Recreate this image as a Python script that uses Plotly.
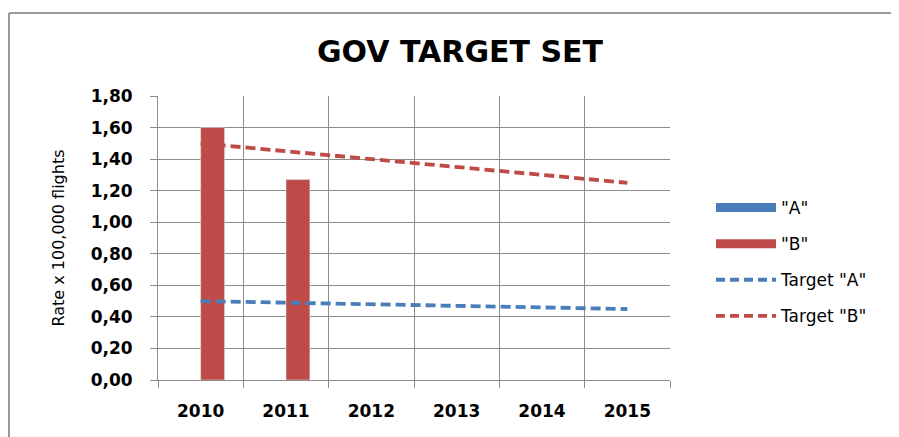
import plotly.graph_objects as go

years = [2010, 2011, 2012, 2013, 2014, 2015]
year_labels = ["2010", "2011", "2012", "2013", "2014", "2015"]
series_a = [None, None, None, None, None, None]
series_b = [1.60, 1.27, None, None, None, None]
target_a = [0.50, 0.49, 0.48, 0.47, 0.46, 0.45]
target_b = [1.50, 1.45, 1.40, 1.35, 1.30, 1.25]
y_ticks = [0.0, 0.2, 0.4, 0.6, 0.8, 1.0, 1.2, 1.4, 1.6, 1.8]
y_tick_labels = ["0,00", "0,20", "0,40", "0,60", "0,80", "1,00", "1,20", "1,40", "1,60", "1,80"]

BLUE = "#4A7EBB"
RED = "#BE4B48"
FONT = "DejaVu Sans"
GRID = "#8C8C8C"

# page is offset by the 8px body margin; figure coords = page coords - 8
L, R, T, B = 150, 662, 88, 372
W, H = 899, 437
PW, PH = R - L, B - T

fig = go.Figure()
fig.add_trace(go.Bar(x=years, y=series_a, width=0.28, offset=-0.28, marker_color=BLUE,
                     showlegend=False, name='"A"'))
fig.add_trace(go.Bar(x=years, y=series_b, width=0.28, offset=0.0, marker_color=RED,
                     showlegend=False, name='"B"'))
fig.add_trace(go.Scatter(x=years, y=target_a, mode="lines", showlegend=False,
                         line=dict(color=BLUE, width=3.8, dash="10px,5px")))
fig.add_trace(go.Scatter(x=years, y=target_b, mode="lines", showlegend=False,
                         line=dict(color=RED, width=3.8, dash="10px,5px")))

# legend entries
fig.add_trace(go.Scatter(x=[None], y=[None], mode="lines", name='"A"', legendgroup="a",
                         line=dict(color=BLUE, width=9)))
fig.add_trace(go.Scatter(x=[None], y=[None], mode="lines", name='"B"', legendgroup="b",
                         line=dict(color=RED, width=9)))
fig.add_trace(go.Scatter(x=[None], y=[None], mode="lines", name='Target "A"', legendgroup="c",
                         line=dict(color=BLUE, width=3.8, dash="9px,5px")))
fig.add_trace(go.Scatter(x=[None], y=[None], mode="lines", name='Target "B"', legendgroup="d",
                         line=dict(color=RED, width=3.8, dash="9px,5px")))

fig.update_layout(
    width=W, height=H,
    margin=dict(l=L, r=W - R, t=T, b=H - B),
    paper_bgcolor="white", plot_bgcolor="white",
    title=dict(text="<b>GOV TARGET SET</b>", x=452 / W, xanchor="center",
               y=1 - 43 / H, yanchor="middle",
               font=dict(family=FONT, size=30, color="black")),
    showlegend=True,
    legend=dict(x=(703 - L) / PW, y=1 - (182 - T) / PH, xanchor="left", yanchor="top",
                traceorder="grouped", tracegroupgap=11, itemwidth=60,
                font=dict(family=FONT, size=17, color="black"),
                bgcolor="rgba(0,0,0,0)"),
    font=dict(family=FONT, color="black"),
)

fig.update_xaxes(
    range=[2009.5, 2015.5], tickmode="array", tickvals=years, ticktext=year_labels,
    showgrid=False, ticks="", showline=True, linecolor=GRID, linewidth=1,
    tickfont=dict(family=FONT, size=17, color="black", weight="bold"),
    ticklabelstandoff=16,
    minor=dict(tickvals=[2009.5 + i for i in range(7)], showgrid=True, gridcolor=GRID,
               gridwidth=1, ticks="outside", ticklen=7, tickcolor=GRID),
    zeroline=False,
)
fig.update_yaxes(
    range=[0, 1.8], tickmode="array", tickvals=y_ticks, ticktext=y_tick_labels,
    showgrid=True, gridcolor=GRID, gridwidth=1,
    ticks="outside", ticklen=7, tickcolor=GRID,
    showline=True, linecolor=GRID, linewidth=1, zeroline=False,
    tickfont=dict(family=FONT, size=17, color="black", weight="bold"),
    ticklabelstandoff=14,
    title=dict(text="Rate x 100,000 flights", font=dict(family=FONT, size=16, color="black"),
               standoff=22),
)

# outer chart border (top and left edges)
bx, by = 1, 5
fig.add_shape(type="line", xref="paper", yref="paper",
              x0=(bx - L) / PW, x1=(W + 10 - L) / PW,
              y0=1 + (T - by) / PH, y1=1 + (T - by) / PH,
              line=dict(color="#9A9A9A", width=2))
fig.add_shape(type="line", xref="paper", yref="paper",
              x0=(bx - L) / PW, x1=(bx - L) / PW,
              y0=1 + (T - by) / PH, y1=-(H + 10 - B) / PH,
              line=dict(color="#9A9A9A", width=2))

fig.write_html("out.html")
